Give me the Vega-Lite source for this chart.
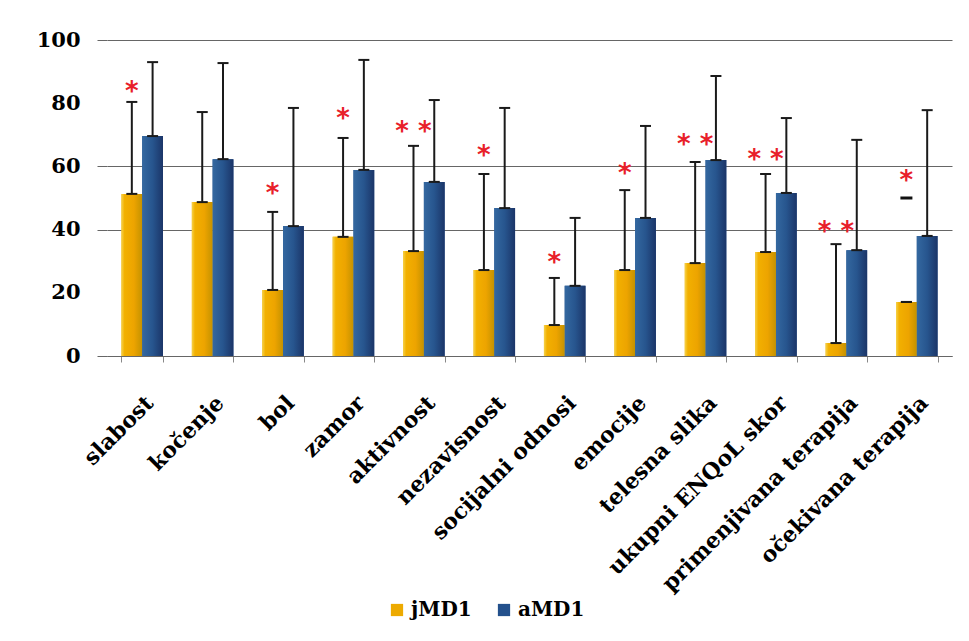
{
  "$schema": "https://vega.github.io/schema/vega-lite/v6.json",
  "width": 845,
  "height": 316,
  "autosize": "none",
  "padding": {"left": 107, "top": 40, "right": 17, "bottom": 285},
  "background": "white",
  "config": {"view": {"stroke": null}, "font": "DejaVu Serif"},
  "datasets": {
    "bars": [
      {"kategorija": "slabost", "grupa": "jMD1", "srednja": 51.3, "gornja": 80.4},
      {"kategorija": "slabost", "grupa": "aMD1", "srednja": 69.6, "gornja": 93.0},
      {"kategorija": "kočenje", "grupa": "jMD1", "srednja": 48.7, "gornja": 77.2},
      {"kategorija": "kočenje", "grupa": "aMD1", "srednja": 62.3, "gornja": 92.7},
      {"kategorija": "bol", "grupa": "jMD1", "srednja": 20.9, "gornja": 45.6},
      {"kategorija": "bol", "grupa": "aMD1", "srednja": 41.1, "gornja": 78.5},
      {"kategorija": "zamor", "grupa": "jMD1", "srednja": 37.7, "gornja": 69.0},
      {"kategorija": "zamor", "grupa": "aMD1", "srednja": 58.9, "gornja": 93.7},
      {"kategorija": "aktivnost", "grupa": "jMD1", "srednja": 33.2, "gornja": 66.5},
      {"kategorija": "aktivnost", "grupa": "aMD1", "srednja": 55.1, "gornja": 81.0},
      {"kategorija": "nezavisnost", "grupa": "jMD1", "srednja": 27.2, "gornja": 57.6},
      {"kategorija": "nezavisnost", "grupa": "aMD1", "srednja": 46.8, "gornja": 78.5},
      {"kategorija": "socijalni odnosi", "grupa": "jMD1", "srednja": 9.8, "gornja": 24.7},
      {"kategorija": "socijalni odnosi", "grupa": "aMD1", "srednja": 22.2, "gornja": 43.7},
      {"kategorija": "emocije", "grupa": "jMD1", "srednja": 27.2, "gornja": 52.5},
      {"kategorija": "emocije", "grupa": "aMD1", "srednja": 43.7, "gornja": 72.8},
      {"kategorija": "telesna slika", "grupa": "jMD1", "srednja": 29.4, "gornja": 61.4},
      {"kategorija": "telesna slika", "grupa": "aMD1", "srednja": 62.0, "gornja": 88.6},
      {"kategorija": "ukupni ENQoL skor", "grupa": "jMD1", "srednja": 32.9, "gornja": 57.6},
      {"kategorija": "ukupni ENQoL skor", "grupa": "aMD1", "srednja": 51.6, "gornja": 75.3},
      {"kategorija": "primenjivana terapija", "grupa": "jMD1", "srednja": 4.1, "gornja": 35.4},
      {"kategorija": "primenjivana terapija", "grupa": "aMD1", "srednja": 33.5, "gornja": 68.4},
      {"kategorija": "očekivana terapija", "grupa": "jMD1", "srednja": 17.1, "gornja": 17.1},
      {"kategorija": "očekivana terapija", "grupa": "aMD1", "srednja": 38.0, "gornja": 77.8}
    ],
    "zvezdice": [
      {"kategorija": "slabost", "grupa": "jMD1", "poz": 85.4, "oznaka": "*"},
      {"kategorija": "bol", "grupa": "jMD1", "poz": 53.2, "oznaka": "*"},
      {"kategorija": "zamor", "grupa": "jMD1", "poz": 76.9, "oznaka": "*"},
      {"kategorija": "aktivnost", "grupa": "jMD1", "poz": 72.8, "oznaka": "* *"},
      {"kategorija": "nezavisnost", "grupa": "jMD1", "poz": 65.2, "oznaka": "*"},
      {"kategorija": "socijalni odnosi", "grupa": "jMD1", "poz": 31.3, "oznaka": "*"},
      {"kategorija": "emocije", "grupa": "jMD1", "poz": 59.5, "oznaka": "*"},
      {"kategorija": "telesna slika", "grupa": "jMD1", "poz": 68.7, "oznaka": "* *"},
      {"kategorija": "ukupni ENQoL skor", "grupa": "jMD1", "poz": 63.9, "oznaka": "* *"},
      {"kategorija": "primenjivana terapija", "grupa": "jMD1", "poz": 41.1, "oznaka": "* *"},
      {"kategorija": "očekivana terapija", "grupa": "jMD1", "poz": 57.3, "oznaka": "*"}
    ],
    "crtice": [
      {"kategorija": "očekivana terapija", "grupa": "jMD1", "poz": 50.0}
    ]
  },
  "layer": [
    {
      "data": {"name": "bars"},
      "mark": {"type": "bar"},
      "encoding": {
        "x": {
          "field": "kategorija", "type": "nominal",
          "scale": {"domain": ["slabost", "kočenje", "bol", "zamor", "aktivnost", "nezavisnost", "socijalni odnosi", "emocije", "telesna slika", "ukupni ENQoL skor", "primenjivana terapija", "očekivana terapija"], "paddingInner": 0.41, "paddingOuter": 0.205},
          "axis": {
            "title": null, "labelAngle": -45, "labelFont": "DejaVu Serif", "labelFontWeight": "bold",
            "labelFontSize": 22, "labelColor": "black", "labelPadding": 30, "labelLimit": 0,
            "tickColor": "#888", "tickSize": 6, "tickBand": "extent", "domainColor": "#666", "grid": false
          }
        },
        "xOffset": {"field": "grupa", "type": "nominal", "scale": {"domain": ["jMD1", "aMD1"]}},
        "y": {
          "field": "srednja", "type": "quantitative", "scale": {"domain": [0, 100]},
          "axis": {
            "title": null, "values": [0, 20, 40, 60, 80, 100], "grid": true, "gridColor": "#666",
            "gridOpacity": {"condition": {"test": "datum.value == 20 || datum.value == 80", "value": 0}, "value": 1},
            "tickOpacity": {"condition": {"test": "datum.value == 20 || datum.value == 80", "value": 0}, "value": 1},
            "tickSize": 10, "tickColor": "#666", "domain": false,
            "labelFont": "DejaVu Serif", "labelFontWeight": "bold", "labelFontSize": 21, "labelColor": "black", "labelPadding": 17
          }
        },
        "color": {
          "field": "grupa", "type": "nominal",
          "scale": {"domain": ["jMD1", "aMD1"], "range": ["#EDAA00", "#23508C"]},
          "legend": {
            "orient": "none", "legendX": 280, "legendY": 560, "direction": "horizontal", "title": null,
            "symbolType": "square", "symbolSize": 150, "symbolStrokeWidth": 0,
            "labelFont": "DejaVu Serif", "labelFontWeight": "bold", "labelFontSize": 20, "labelColor": "black",
            "columnPadding": 22, "labelOffset": 4
          }
        }
      }
    },
    {
      "data": {"name": "bars"},
      "transform": [{"filter": "datum.grupa == 'jMD1'"}],
      "mark": {"type": "bar", "fill": {"gradient": "linear", "x1": 0, "y1": 0, "x2": 1, "y2": 0, "stops": [{"offset": 0, "color": "#F6D24A"}, {"offset": 0.15, "color": "#F2B000"}, {"offset": 0.6, "color": "#EDA400"}, {"offset": 1, "color": "#C49200"}]}},
      "encoding": {
        "x": {"field": "kategorija", "type": "nominal"},
        "xOffset": {"field": "grupa", "type": "nominal"},
        "y": {"field": "srednja", "type": "quantitative"}
      }
    },
    {
      "data": {"name": "bars"},
      "transform": [{"filter": "datum.grupa == 'aMD1'"}],
      "mark": {"type": "bar", "fill": {"gradient": "linear", "x1": 0, "y1": 0, "x2": 1, "y2": 0, "stops": [{"offset": 0, "color": "#3468A0"}, {"offset": 0.5, "color": "#27558E"}, {"offset": 1, "color": "#1B3568"}]}},
      "encoding": {
        "x": {"field": "kategorija", "type": "nominal"},
        "xOffset": {"field": "grupa", "type": "nominal"},
        "y": {"field": "srednja", "type": "quantitative"}
      }
    },
    {
      "data": {"name": "bars"},
      "mark": {"type": "rule", "color": "#1a1a1a", "strokeWidth": 2},
      "encoding": {
        "x": {"field": "kategorija", "type": "nominal"},
        "xOffset": {"field": "grupa", "type": "nominal"},
        "y": {"field": "srednja", "type": "quantitative"},
        "y2": {"field": "gornja"}
      }
    },
    {
      "data": {"name": "bars"},
      "mark": {"type": "tick", "color": "#1a1a1a", "opacity": 1, "thickness": 2, "size": 11},
      "encoding": {
        "x": {"field": "kategorija", "type": "nominal"},
        "xOffset": {"field": "grupa", "type": "nominal"},
        "y": {"field": "gornja", "type": "quantitative"}
      }
    },
    {
      "data": {"name": "bars"},
      "mark": {"type": "tick", "color": "#1a1a1a", "opacity": 1, "thickness": 2, "size": 11},
      "encoding": {
        "x": {"field": "kategorija", "type": "nominal"},
        "xOffset": {"field": "grupa", "type": "nominal"},
        "y": {"field": "srednja", "type": "quantitative"}
      }
    },
    {
      "data": {"name": "zvezdice"},
      "mark": {"type": "text", "color": "#E8202A", "font": "DejaVu Sans", "fontSize": 26, "fontWeight": "bold", "baseline": "alphabetic", "dy": 14},
      "encoding": {
        "x": {"field": "kategorija", "type": "nominal"},
        "xOffset": {"field": "grupa", "type": "nominal"},
        "y": {"field": "poz", "type": "quantitative"},
        "text": {"field": "oznaka"}
      }
    },
    {
      "data": {"name": "crtice"},
      "mark": {"type": "tick", "color": "#111111", "opacity": 1, "thickness": 3, "size": 12},
      "encoding": {
        "x": {"field": "kategorija", "type": "nominal"},
        "xOffset": {"field": "grupa", "type": "nominal"},
        "y": {"field": "poz", "type": "quantitative"}
      }
    }
  ]
}
